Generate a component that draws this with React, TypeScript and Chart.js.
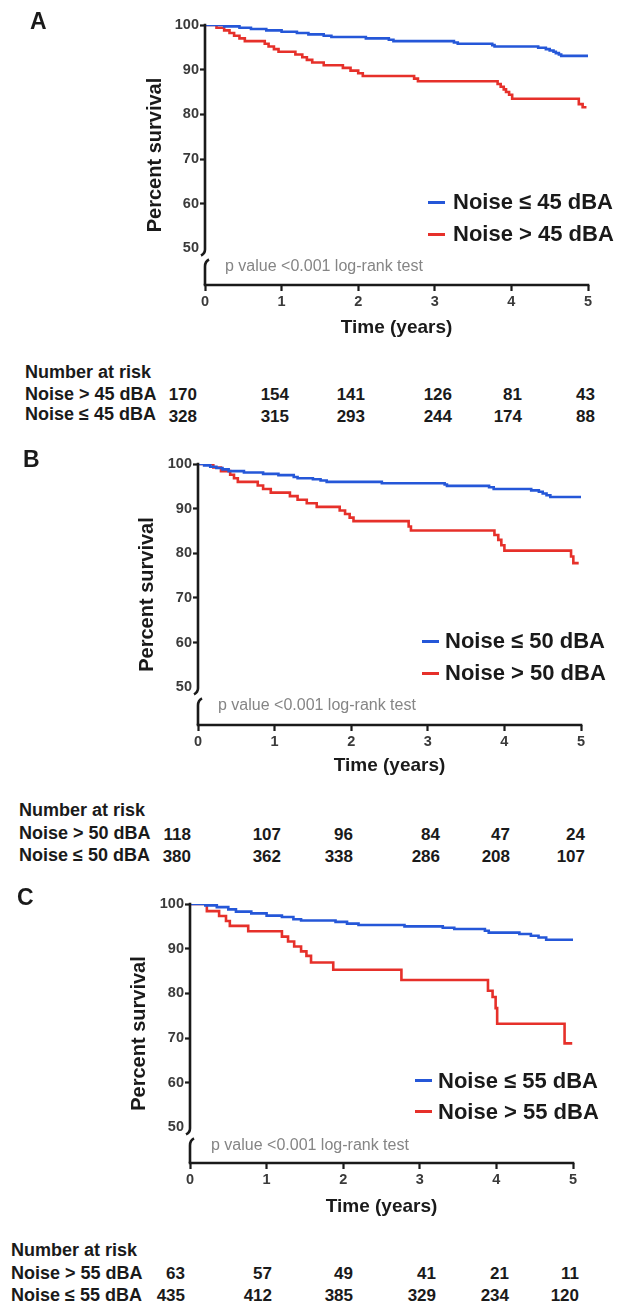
import React, { useEffect, useRef } from "react";
import { Chart, registerables } from "chart.js";

Chart.register(...registerables);

// ---------------- DATA ----------------
const xTickValues = [0, 1, 2, 3, 4, 5];
const yTickValues = [50, 60, 70, 80, 90, 100];
const panelLetters = ["A", "B", "C"];
const thresholds = [45, 50, 55];

// Panel A (45 dBA)
const lowTimesA = [0, 0.25, 0.45, 0.6, 0.8, 1.0, 1.2, 1.35, 1.55, 1.65, 2.1, 2.4, 2.46, 3.25, 3.3, 3.75, 3.78, 4.35, 4.45, 4.5, 4.55, 4.58, 4.62, 4.65, 5.0];
const lowSurvA = [100, 99.7, 99.4, 99.1, 98.8, 98.5, 98.2, 97.9, 97.6, 97.3, 97.0, 96.7, 96.4, 96.1, 95.8, 95.5, 95.2, 94.9, 94.6, 94.3, 94.0, 93.7, 93.4, 93.1, 93.1];
const highTimesA = [0, 0.15, 0.25, 0.32, 0.38, 0.45, 0.52, 0.78, 0.83, 0.9, 0.96, 1.18, 1.27, 1.33, 1.4, 1.55, 1.8, 1.9, 2.0, 2.06, 2.73, 2.78, 3.82, 3.86, 3.9, 3.93, 3.97, 4.01, 4.88, 4.93, 4.98];
const highSurvA = [100, 99.4, 98.8, 98.2, 97.6, 97.0, 96.4, 95.8, 95.2, 94.6, 94.0, 93.4, 92.8, 92.2, 91.6, 91.0, 90.4, 89.8, 89.2, 88.6, 88.0, 87.4, 86.8, 86.2, 85.6, 85.0, 84.4, 83.5, 82.3, 81.6, 81.6];
const riskHighA = [170, 154, 141, 126, 81, 43];
const riskLowA = [328, 315, 293, 244, 174, 88];

// Panel B (50 dBA)
const lowTimesB = [0, 0.08, 0.16, 0.24, 0.32, 0.4, 0.6, 0.85, 1.05, 1.25, 1.3, 1.5, 1.6, 1.68, 2.4, 3.22, 3.25, 3.8, 3.86, 4.35, 4.45, 4.5, 4.55, 4.6, 5.0];
const lowSurvB = [100, 99.7, 99.4, 99.1, 98.8, 98.4, 98.1, 97.8, 97.5, 97.1, 96.8, 96.6, 96.3, 96.0, 95.7, 95.4, 95.1, 94.8, 94.4, 94.1, 93.8, 93.4, 93.0, 92.6, 92.6];
const highTimesB = [0, 0.2, 0.3, 0.42, 0.47, 0.52, 0.78, 0.85, 0.95, 1.2, 1.3, 1.42, 1.55, 1.85, 1.92, 1.98, 2.03, 2.75, 2.78, 3.87, 3.92, 3.96, 4.0, 4.87, 4.9, 4.97];
const highSurvB = [100, 99.2, 98.4, 97.6, 96.8, 96.0, 95.2, 94.4, 93.6, 92.8, 92.0, 91.2, 90.4, 89.6, 88.8, 88.0, 87.2, 86.0, 85.1, 84.1, 83.0, 81.8, 80.6, 79.3, 77.8, 77.8];
const riskHighB = [118, 107, 96, 84, 47, 24];
const riskLowB = [380, 362, 338, 286, 208, 107];

// Panel C (55 dBA)
const lowTimesC = [0, 0.2, 0.35, 0.5, 0.6, 0.8, 1.0, 1.2, 1.35, 1.45, 1.9, 2.05, 2.2, 2.8, 3.3, 3.45, 3.85, 3.9, 4.3, 4.45, 4.55, 4.65, 5.0];
const lowSurvC = [100, 99.7, 99.3, 98.8, 98.3, 97.9, 97.4, 97.1, 96.6, 96.3, 96.0, 95.6, 95.3, 95.0, 94.7, 94.4, 94.0, 93.6, 93.3, 92.9, 92.5, 92.0, 92.0];
const highTimesC = [0, 0.22, 0.38, 0.47, 0.52, 0.76, 1.2, 1.28, 1.36, 1.45, 1.52, 1.58, 1.87, 2.76, 3.89, 3.95, 3.99, 4.01, 4.89, 4.99];
const highSurvC = [100, 98.4, 97.3, 96.2, 95.1, 93.9, 92.7, 91.6, 90.5, 89.4, 88.4, 86.9, 85.3, 83.0, 80.6, 79.2, 76.7, 73.2, 68.8, 68.8];
const riskHighC = [63, 57, 49, 41, 21, 11];
const riskLowC = [435, 412, 385, 329, 234, 120];

// ---------------- LAYOUT / STYLE ----------------
const FONT = "'Liberation Sans', Arial, Helvetica, sans-serif";
const BLUE = "#2557d8";
const RED = "#e6302a";
const INK = "#1a1a1a";
const TICK_INK = "#3a3a3a";
const W = 619;

type Layout = {
  letterX: number; letterY: number;
  canvasTop: number; canvasH: number;
  areaLeft: number; areaRight: number; areaTop: number; areaBottom: number; yMin: number;
  yTitleX: number; xTitleY: number;
  swatchX: number; legendTextX: number; legendY: number[];
  pX: number; pY: number;
  tableX: number; headY: number; rowY: number[]; numY: number[]; numRight: number[];
};

const layouts: Layout[] = [
  {
    letterX: 30, letterY: 20.5, canvasTop: 0, canvasH: 343,
    areaLeft: 205, areaRight: 588, areaTop: 25, areaBottom: 285, yMin: 41.83,
    yTitleX: 155, xTitleY: 328,
    swatchX: 428, legendTextX: 453, legendY: [202, 234],
    pX: 225, pY: 266,
    tableX: 25, headY: 372, rowY: [393.5, 414], numY: [395, 416.5], numRight: [197, 289, 365, 452, 522, 595],
  },
  {
    letterX: 23, letterY: 459, canvasTop: 440, canvasH: 341,
    areaLeft: 198, areaRight: 581, areaTop: 464, areaBottom: 725, yMin: 41.56,
    yTitleX: 147, xTitleY: 766,
    swatchX: 422, legendTextX: 445, legendY: [641, 673],
    pX: 218, pY: 705,
    tableX: 19, headY: 810, rowY: [833, 855], numY: [835, 857], numRight: [191, 281, 353, 440, 510, 585],
  },
  {
    letterX: 17, letterY: 896.5, canvasTop: 880, canvasH: 342,
    areaLeft: 190, areaRight: 573, areaTop: 904, areaBottom: 1163, yMin: 42.03,
    yTitleX: 139, xTitleY: 1207,
    swatchX: 415, legendTextX: 438, legendY: [1080.5, 1111.5],
    pX: 211, pY: 1145,
    tableX: 11, headY: 1250, rowY: [1273, 1295], numY: [1274, 1296], numRight: [185, 272, 353, 436, 509, 579],
  },
];

const curves = [
  { low: [lowTimesA, lowSurvA], high: [highTimesA, highSurvA], riskHigh: riskHighA, riskLow: riskLowA },
  { low: [lowTimesB, lowSurvB], high: [highTimesB, highSurvB], riskHigh: riskHighB, riskLow: riskLowB },
  { low: [lowTimesC, lowSurvC], high: [highTimesC, highSurvC], riskHigh: riskHighC, riskLow: riskLowC },
];

const lowLabel = (t: number) => `Noise \u2264 ${t} dBA`;
const highLabel = (t: number) => `Noise > ${t} dBA`;

function toPoints(times: number[], surv: number[]) {
  return times.map((t, i) => ({ x: t, y: surv[i] }));
}

const axisPlugin = {
  id: "kmAxes",
  afterDatasetsDraw(chart: any) {
    const { ctx, chartArea, scales } = chart;
    const x0 = chartArea.left;
    const yb = chartArea.bottom;
    const yt = chartArea.top;
    const y50 = scales.y.getPixelForValue(50);
    ctx.save();
    ctx.strokeStyle = INK;
    ctx.lineWidth = 2.6;
    ctx.lineCap = "butt";
    ctx.lineJoin = "round";
    ctx.beginPath();
    ctx.moveTo(x0, yt - 1.3);
    ctx.lineTo(x0, y50 + 1);
    ctx.quadraticCurveTo(x0, y50 + 5, x0 - 4, y50 + 7);
    ctx.stroke();
    ctx.beginPath();
    ctx.moveTo(x0 + 4, y50 + 11);
    ctx.quadraticCurveTo(x0, y50 + 13, x0, y50 + 18);
    ctx.lineTo(x0, yb);
    ctx.stroke();
    ctx.beginPath();
    ctx.moveTo(x0 - 1.3, yb);
    ctx.lineTo(chartArea.right + 1.3, yb);
    ctx.stroke();
    ctx.restore();
  },
};

function makeChart(canvas: HTMLCanvasElement, idx: number) {
  const L = layouts[idx];
  const c = curves[idx];
  const th = thresholds[idx];
  const H = L.canvasH;
  const topLocal = L.areaTop - L.canvasTop;
  const bottomLocal = L.areaBottom - L.canvasTop;
  const xTitleLocal = L.xTitleY - L.canvasTop;
  const xTitleSize = 19;
  const yTitleSize = 20;
  const xLH = xTitleSize * 1.2;
  const yLH = yTitleSize * 1.2;
  const tickFont = { family: FONT, size: 14.5, weight: "bold" as const };

  return new Chart(canvas, {
    type: "line",
    data: {
      datasets: [
        {
          label: lowLabel(th),
          data: toPoints(c.low[0], c.low[1]),
          borderColor: BLUE,
          backgroundColor: BLUE,
          borderWidth: 2.6,
          stepped: true,
          pointRadius: 0,
          fill: false,
        },
        {
          label: highLabel(th),
          data: toPoints(c.high[0], c.high[1]),
          borderColor: RED,
          backgroundColor: RED,
          borderWidth: 2.6,
          stepped: true,
          pointRadius: 0,
          fill: false,
        },
      ],
    },
    options: {
      animation: false,
      responsive: false,
      devicePixelRatio: 1,
      events: [],
      layout: { padding: { left: 0, top: topLocal, right: W - L.areaRight, bottom: 0 } },
      plugins: { legend: { display: false }, tooltip: { enabled: false } },
      scales: {
        x: {
          type: "linear",
          min: 0,
          max: 5,
          bounds: "data",
          afterBuildTicks: (s: any) => {
            s.ticks = xTickValues.map((v) => ({ value: v }));
          },
          afterFit: (s: any) => {
            s.height = H - bottomLocal;
          },
          grid: { display: true, drawOnChartArea: false, drawTicks: true, tickLength: 6, tickWidth: 2.2, tickColor: INK },
          border: { display: false },
          ticks: { font: tickFont, color: TICK_INK, padding: 2, maxRotation: 0, autoSkip: false },
          title: {
            display: true,
            text: "Time (years)",
            font: { family: FONT, size: xTitleSize, weight: "bold" },
            color: INK,
            padding: { top: 0, bottom: H - xTitleLocal - xLH / 2 },
          },
        },
        y: {
          type: "linear",
          min: L.yMin,
          max: 100,
          bounds: "data",
          afterBuildTicks: (s: any) => {
            s.ticks = yTickValues.map((v) => ({ value: v }));
          },
          afterFit: (s: any) => {
            s.width = L.areaLeft;
          },
          grid: {
            display: true,
            drawOnChartArea: false,
            drawTicks: true,
            tickLength: 5,
            tickWidth: 2.2,
            tickColor: (ctx: any) => (ctx.tick && ctx.tick.value === 50 ? "rgba(0,0,0,0)" : INK),
          },
          border: { display: false },
          ticks: { font: tickFont, color: TICK_INK, padding: 1, autoSkip: false },
          title: {
            display: true,
            text: "Percent survival",
            font: { family: FONT, size: yTitleSize, weight: "bold" },
            color: INK,
            padding: { top: L.yTitleX - yLH / 2, bottom: 0 },
          },
        },
      },
    } as any,
    plugins: [axisPlugin],
  });
}

const abs = (left: number, top: number, extra: React.CSSProperties = {}): React.CSSProperties => ({
  position: "absolute",
  left,
  top,
  lineHeight: 1,
  whiteSpace: "nowrap",
  ...extra,
});

export default function App() {
  const refs = [useRef<HTMLCanvasElement>(null), useRef<HTMLCanvasElement>(null), useRef<HTMLCanvasElement>(null)];

  useEffect(() => {
    const charts = refs.map((r, i) => (r.current ? makeChart(r.current, i) : null));
    return () => {
      charts.forEach((ch) => ch && ch.destroy());
    };
  }, []);

  return (
    <div style={{ position: "absolute", left: 0, top: 0, width: W, height: 1305, background: "#fff", overflow: "hidden", fontFamily: FONT }}>
      {layouts.map((L, i) => {
        const th = thresholds[i];
        const c = curves[i];
        const legendItems = [
          { text: lowLabel(th), color: BLUE },
          { text: highLabel(th), color: RED },
        ];
        const rows = [
          { label: highLabel(th), values: c.riskHigh },
          { label: lowLabel(th), values: c.riskLow },
        ];
        return (
          <React.Fragment key={i}>
            <canvas
              ref={refs[i]}
              width={W}
              height={L.canvasH}
              style={{ position: "absolute", left: 0, top: L.canvasTop, width: W, height: L.canvasH }}
            />
            <div style={abs(L.letterX, L.letterY, { transform: "translateY(-50%)", font: `bold 23px ${FONT}`, color: INK })}>
              {panelLetters[i]}
            </div>
            <div style={abs(L.pX, L.pY, { transform: "translateY(-50%)", font: `16px ${FONT}`, color: "#858585" })}>
              p value &lt;0.001 log-rank test
            </div>
            {legendItems.map((it, k) => (
              <div key={k} style={abs(L.swatchX, L.legendY[k], { transform: "translateY(-50%)", display: "flex", alignItems: "center" })}>
                <span style={{ display: "inline-block", width: 17, height: 3, background: it.color, marginRight: L.legendTextX - L.swatchX - 17 }} />
                <span style={{ font: `bold 22px ${FONT}`, color: INK, lineHeight: 1 }}>{it.text}</span>
              </div>
            ))}
            <div style={abs(L.tableX, L.headY, { transform: "translateY(-50%)", font: `bold 18px ${FONT}`, color: INK })}>
              Number at risk
            </div>
            {rows.map((row, r) => (
              <React.Fragment key={r}>
                <div style={abs(L.tableX, L.rowY[r], { transform: "translateY(-50%)", font: `bold 18px ${FONT}`, color: INK })}>
                  {row.label}
                </div>
                {row.values.map((v, k) => (
                  <div key={k} style={abs(L.numRight[k], L.numY[r], { transform: "translate(-100%, -50%)", font: `bold 17px ${FONT}`, color: INK })}>
                    {v}
                  </div>
                ))}
              </React.Fragment>
            ))}
          </React.Fragment>
        );
      })}
    </div>
  );
}
